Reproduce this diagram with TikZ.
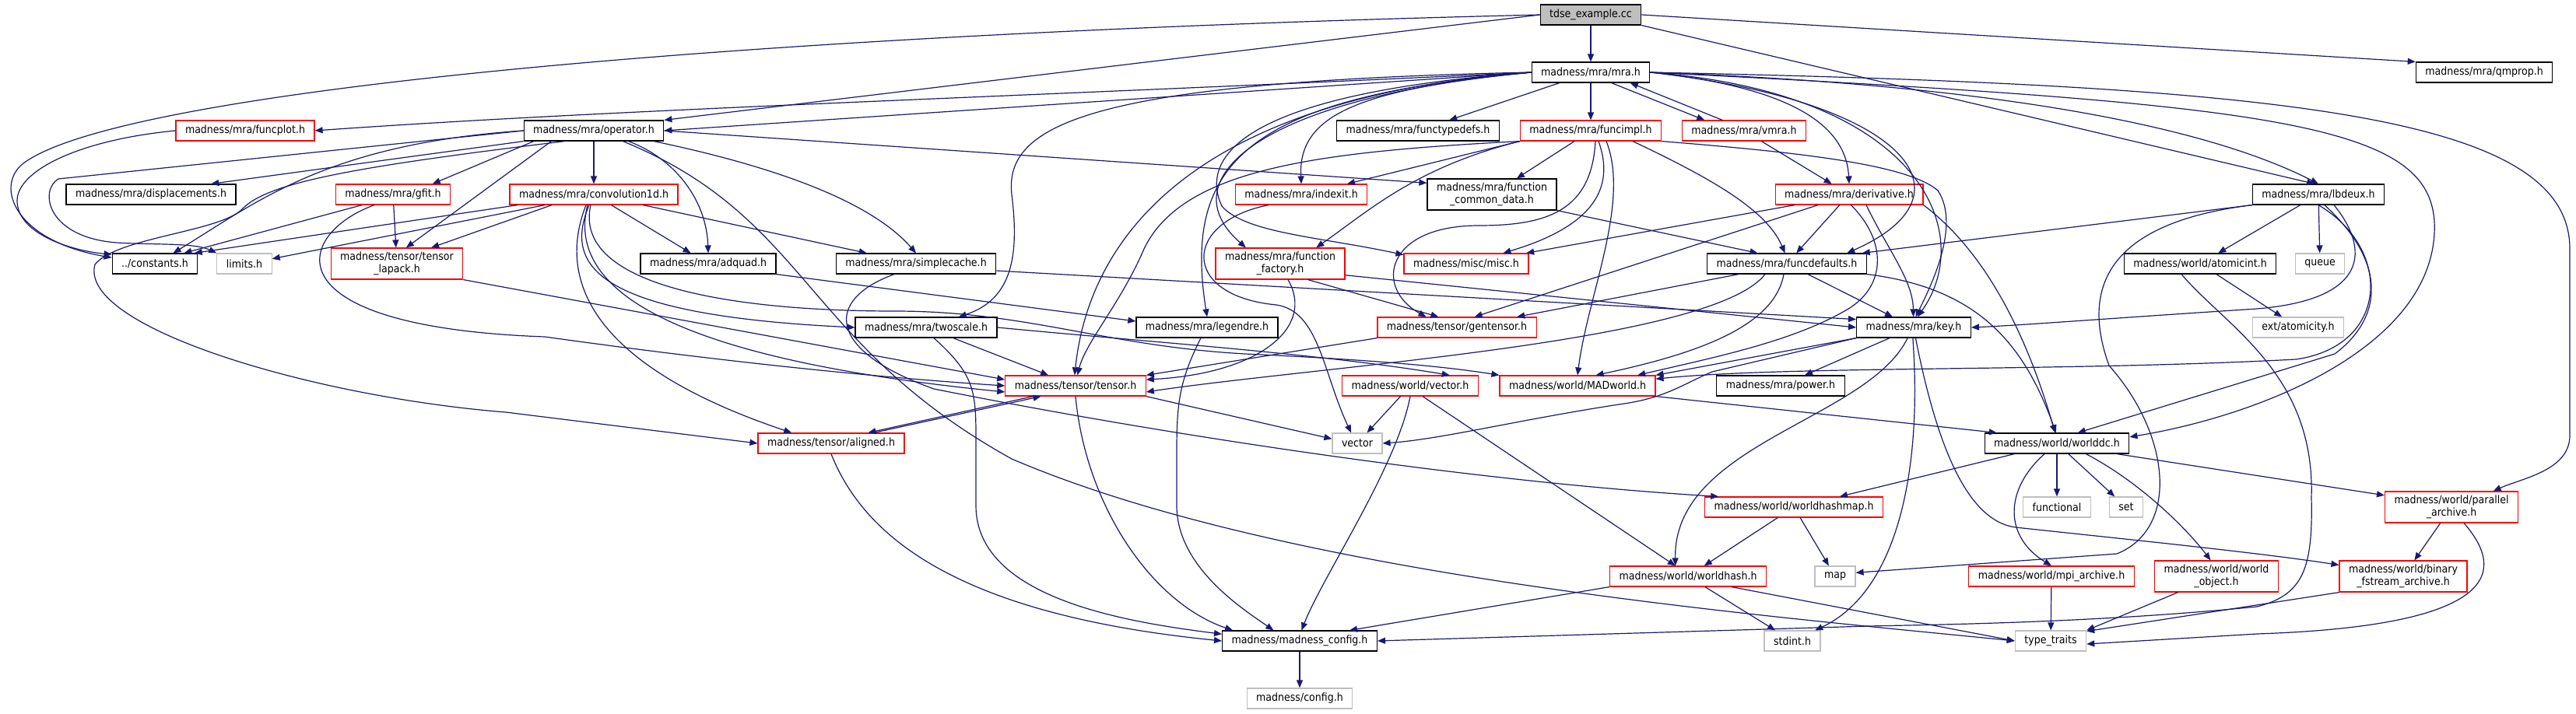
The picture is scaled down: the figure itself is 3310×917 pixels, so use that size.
\documentclass[tikz,border=0pt]{standalone}
\usepackage{fontspec}
\setmainfont{DejaVu Sans}[FakeStretch=0.9]
\usepackage{tikz}
\usetikzlibrary{arrows.meta}
\definecolor{edgeblue}{HTML}{191970}
\definecolor{incred}{HTML}{FF0000}
\definecolor{sysgray}{HTML}{BFBFBF}
\tikzset{
  %% Header boxes
  filebox/.style={
    rectangle, draw=black, fill=white, line width=0.6pt,
    minimum height=13pt, inner xsep=6pt, inner ysep=0pt,
    align=center, font=\fontsize{7}{7.8}\selectfont},
  %% Headers with hidden includes
  redbox/.style={filebox, draw=incred},
  %% System headers
  sysbox/.style={filebox, draw=sysgray},
  %% Root file
  rootbox/.style={filebox, fill=sysgray},
  %% Two-line boxes
  tall/.style={minimum height=20pt},
  %% Include arrows
  incl/.style={-{Triangle[length=5pt,width=4pt]}, draw=edgeblue, line width=0.6pt},
}

\begin{document}
\begin{tikzpicture}[x=0.5pt, y=-0.5pt]
  \fill[white] (0,0) rectangle (3310,917);
  \useasboundingbox (0,0) rectangle (3310,917);

  %% Rows of files
  \node[rootbox] (tdse) at (2044,19) {tdse\_example.cc};
  \node[filebox] (mra) at (2044,93) {madness/mra/mra.h};
  \node[filebox] (qmprop) at (3192,93) {madness/mra/qmprop.h};

  \node[redbox] (funcplot) at (315,168) {madness/mra/funcplot.h};
  \node[filebox] (operator) at (763,168) {madness/mra/operator.h};
  \node[filebox] (functypedefs) at (1822,168) {madness/mra/functypedefs.h};
  \node[redbox] (funcimpl) at (2044,168) {madness/mra/funcimpl.h};
  \node[redbox] (vmra) at (2241,168) {madness/mra/vmra.h};

  \node[filebox] (displacements) at (194,250) {madness/mra/displacements.h};
  \node[redbox] (gfit) at (505,250) {madness/mra/gfit.h};
  \node[redbox] (conv) at (763,250) {madness/mra/convolution1d.h};
  \node[redbox] (indexit) at (1672,250) {madness/mra/indexit.h};
  \node[filebox, tall] (fcommon) at (1917,250) {madness/mra/function\\\_common\_data.h};
  \node[redbox] (derivative) at (2376,250) {madness/mra/derivative.h};
  \node[filebox] (lbdeux) at (2979,250) {madness/mra/lbdeux.h};

  \node[filebox] (constants) at (199,339) {../constants.h};
  \node[sysbox] (limits) at (314,339) {limits.h};
  \node[redbox, tall] (lapack) at (510,339) {madness/tensor/tensor\\\_lapack.h};
  \node[filebox] (adquad) at (910,339) {madness/mra/adquad.h};
  \node[filebox] (simplecache) at (1177,339) {madness/mra/simplecache.h};
  \node[redbox, tall] (factory) at (1645,339) {madness/mra/function\\\_factory.h};
  \node[redbox] (misc) at (1884,339) {madness/misc/misc.h};
  \node[filebox] (funcdefaults) at (2296,339) {madness/mra/funcdefaults.h};
  \node[filebox] (atomicint) at (2827,339) {madness/world/atomicint.h};
  \node[sysbox] (queue) at (2981,339) {queue};

  \node[filebox] (twoscale) at (1190,421) {madness/mra/twoscale.h};
  \node[filebox] (legendre) at (1551,421) {madness/mra/legendre.h};
  \node[redbox] (gentensor) at (1872,421) {madness/tensor/gentensor.h};
  \node[filebox] (key) at (2459,421) {madness/mra/key.h};
  \node[sysbox] (atomicity) at (2953,421) {ext/atomicity.h};

  \node[redbox] (tensor) at (1382,496) {madness/tensor/tensor.h};
  \node[redbox] (wvector) at (1812,496) {madness/world/vector.h};
  \node[redbox] (madworld) at (2027,496) {madness/world/MADworld.h};
  \node[filebox] (power) at (2288,496) {madness/mra/power.h};

  \node[redbox] (aligned) at (1068,570) {madness/tensor/aligned.h};
  \node[sysbox] (stdvector) at (1744,570) {vector};
  \node[filebox] (worlddc) at (2643,570) {madness/world/worlddc.h};

  \node[redbox] (hashmap) at (2305,652) {madness/world/worldhashmap.h};
  \node[sysbox] (functional) at (2643,652) {functional};
  \node[sysbox] (stdset) at (2732,652) {set};
  \node[redbox, tall] (parallel) at (3150,652) {madness/world/parallel\\\_archive.h};

  \node[redbox] (worldhash) at (2169,741) {madness/world/worldhash.h};
  \node[sysbox] (stdmap) at (2358,741) {map};
  \node[redbox] (mpiarchive) at (2636,741) {madness/world/mpi\_archive.h};
  \node[redbox, tall] (worldobject) at (2848,741) {madness/world/world\\\_object.h};
  \node[redbox, tall] (binaryfs) at (3088,741) {madness/world/binary\\\_fstream\_archive.h};

  \node[filebox] (config) at (1670,824) {madness/madness\_config.h};
  \node[sysbox] (stdint) at (2303,824) {stdint.h};
  \node[sysbox] (typetraits) at (2635,824) {type\_traits};
  \node[sysbox] (madconfig) at (1670,898) {madness/config.h};

  %% tdse_example.cc
  \draw[incl] (tdse) -- (mra);
  \draw[incl] (tdse.east) -- (qmprop.north west);
  \draw[incl] (tdse.south east) -- (lbdeux.110);
  \draw[incl] (tdse.west) -- (operator.north east);
  \draw[incl] (tdse.west) .. controls (900,45) and (150,120) .. (30,210)
        .. controls (-8,240) and (20,310) .. (constants.172);

  %% mra.h
  \draw[incl] (mra.west) .. controls (1300,125) and (800,140) .. (funcplot.east);
  \draw[incl] (mra.west) -- (operator.east);
  \draw[incl] (mra) -- (functypedefs);
  \draw[incl] (mra) -- (funcimpl);
  \draw[incl] (mra.-27) -- (vmra.165);
  \draw[incl] (vmra.154) -- (mra.-15);
  \draw[incl] (mra.east) .. controls (2300,112) and (2372,160) .. (derivative.north);
  \draw[incl] (mra.east) .. controls (2450,130) and (2545,250) .. (funcdefaults.10);
  \draw[incl] (mra.east) .. controls (2470,120) and (2540,300) .. (key.70);
  \draw[incl] (mra.east) .. controls (2600,110) and (2850,170) .. (lbdeux.north);
  \draw[incl] (mra.east) .. controls (2950,110) and (3302,150) .. (3302,320)
        -- (3302,560) .. controls (3302,605) and (3240,615) .. (parallel.21);
  \draw[incl] (mra.east) .. controls (2950,135) and (3135,160) .. (3128,300)
        .. controls (3120,450) and (2900,535) .. (worlddc.5);
  \draw[incl] (mra.west) .. controls (1740,115) and (1668,150) .. (indexit.north);
  \draw[incl] (mra.west) .. controls (1620,125) and (1500,230) .. (factory.155);
  \draw[incl] (mra.west) .. controls (1400,105) and (1290,160) .. (1300,250)
        .. controls (1310,330) and (1300,385) .. (twoscale.18);
  \draw[incl] (mra.west) .. controls (1600,125) and (1520,210) .. (legendre.north);
  \draw[incl] (mra.west) .. controls (1540,125) and (1400,300) .. (tensor.95);
  \draw[incl] (mra.west) .. controls (1600,120) and (1540,200) .. (1570,265)
        .. controls (1600,300) and (1700,305) .. (misc.172);

  %% funcplot.h
  \draw[incl] (funcplot.west) .. controls (100,180) and (22,220) .. (22,258)
        .. controls (22,300) and (90,322) .. (constants.168);

  %% operator.h
  \draw[incl] (operator.south west) -- (displacements.10);
  \draw[incl] (operator.190) -- (gfit.15);
  \draw[incl] (operator) -- (conv);
  \draw[incl] (operator.-17) .. controls (870,205) and (908,260) .. (adquad.north);
  \draw[incl] (operator.-10) .. controls (1000,215) and (1120,260) .. (simplecache.north);
  \draw[incl] (operator.east) -- (fcommon.170);
  \draw[incl] (operator.194) -- (lapack.60);
  \draw[incl] (operator.west) .. controls (420,185) and (330,260) .. (constants.30);
  \draw[incl] (operator.west) -- (75,230) .. controls (50,245) and (60,305) .. (150,312)
        .. controls (200,315) and (250,312) .. (limits.north west);
  \draw[incl] (operator.200) .. controls (450,215) and (345,235) .. (312,268)
        .. controls (285,298) and (150,305) .. (122,340)
        .. controls (100,420) and (400,510) .. (650,530) -- (aligned.west);
  \draw[incl] (operator.-20) .. controls (1040,280) and (1030,440) .. (1300,590)
        .. controls (1650,740) and (2250,790) .. (typetraits.west);

  %% gfit.h and tensor_lapack.h
  \draw[incl] ([xshift=-20pt]gfit.south) -- (constants.20);
  \draw[incl] (gfit) -- (lapack);
  \draw[incl] ([xshift=-12pt]gfit.south) .. controls (380,300) and (340,420) .. (700,433)
        .. controls (1000,475) and (1200,490) .. (tensor.west);
  \draw[incl] (lapack.south east) -- (tensor.175);

  %% convolution1d.h
  \draw[incl] ([xshift=-49pt]conv.south) -- (constants.15);
  \draw[incl] ([xshift=-31.5pt]conv.south) -- (limits.10);
  \draw[incl] ([xshift=-27pt]conv.south) -- (lapack.25);
  \draw[incl] (conv) -- (adquad);
  \draw[incl] (conv) -- (simplecache);
  \draw[incl] ([xshift=-3pt]conv.south) .. controls (725,340) and (760,405) .. (twoscale.west);
  \draw[incl] ([xshift=-5pt]conv.south) .. controls (715,360) and (760,470) .. (aligned.165);
  \draw[incl] ([xshift=-4pt]conv.south) .. controls (720,400) and (950,470) .. (tensor.185);
  \draw[incl] ([xshift=-2pt]conv.south) .. controls (735,370) and (950,400) .. (1150,400)
        .. controls (1320,400) and (1420,445) .. (1600,455)
        .. controls (1750,462) and (1850,470) .. (madworld.north west);

  %% funcimpl.h
  \draw[incl] (funcimpl) -- (fcommon);
  \draw[incl] (funcimpl.south west) -- (indexit.13);
  \draw[incl] (funcimpl.south west) .. controls (1820,215) and (1760,270) .. (factory.24);
  \draw[incl] ([xshift=5pt]funcimpl.south) .. controls (2075,240) and (2050,290) .. (misc.16);
  \draw[incl] ([xshift=3pt]funcimpl.south) .. controls (2045,270) and (1990,290) .. (1900,290)
        .. controls (1780,290) and (1765,370) .. (gentensor.161);
  \draw[incl] ([xshift=27pt]funcimpl.south) .. controls (2200,230) and (2270,270) .. (funcdefaults.100);
  \draw[incl] (funcimpl.south east) .. controls (2300,195) and (2450,210) .. (2490,245)
        .. controls (2520,290) and (2480,370) .. (key.80);
  \draw[incl] (funcimpl.south west) .. controls (1700,195) and (1520,215) .. (1470,320)
        .. controls (1440,390) and (1395,440) .. (tensor.80);
  \draw[incl] ([xshift=10pt]funcimpl.south) .. controls (2095,260) and (2040,380) .. (madworld.north);

  %% vmra.h, function_common_data.h
  \draw[incl] (vmra) -- (derivative);
  \draw[incl] (fcommon.south east) -- (funcdefaults.160);

  %% derivative.h
  \draw[incl] ([xshift=-35pt]derivative.south) -- (misc.10);
  \draw[incl] ([xshift=-20pt]derivative.south) -- (gentensor.31);
  \draw[incl] (derivative) -- (funcdefaults);
  \draw[incl] ([xshift=11pt]derivative.south) .. controls (2425,320) and (2458,360) .. (key.92);
  \draw[incl] (derivative.south east) .. controls (2560,330) and (2610,450) .. (worlddc.100);
  \draw[incl] (derivative.-80) .. controls (2425,310) and (2425,370) .. (2370,400)
        .. controls (2300,440) and (2200,460) .. (madworld.10);

  %% indexit.h
  \draw[incl] ([xshift=-21pt]indexit.south) .. controls (1520,285) and (1515,380) .. (1640,392)
        .. controls (1695,400) and (1700,480) .. (stdvector.120);

  %% lbdeux.h
  \draw[incl] (lbdeux.south west) -- (funcdefaults.8);
  \draw[incl] (lbdeux) -- (atomicint);
  \draw[incl] (lbdeux) -- (queue);
  \draw[incl] ([xshift=10pt]lbdeux.south) .. controls (3045,320) and (3045,385) .. (2900,397)
        .. controls (2700,410) and (2600,418) .. (key.east);
  \draw[incl] (lbdeux.-60) .. controls (3070,340) and (3060,410) .. (3000,455) -- (worlddc.27);
  \draw[incl] (lbdeux.south) .. controls (3075,320) and (3070,445) .. (2950,462)
        .. controls (2650,478) and (2300,470) .. (madworld.5);
  \draw[incl] (lbdeux.south west) .. controls (2720,285) and (2670,360) .. (2710,470)
        .. controls (2790,560) and (2800,680) .. (2720,712) -- (stdmap.10);

  %% atomicint.h
  \draw[incl] (atomicint) -- (atomicity);
  \draw[incl] ([xshift=-12pt]atomicint.south) .. controls (2860,420) and (2975,480) .. (2970,640)
        .. controls (2972,730) and (2960,765) .. (2900,780)
        .. controls (2700,800) and (2500,803) .. (2400,805) -- (config.east);

  %% funcdefaults.h
  \draw[incl] (funcdefaults) -- (key);
  \draw[incl] ([xshift=-31pt]funcdefaults.south) -- (gentensor.10);
  \draw[incl] ([xshift=-14pt]funcdefaults.south) .. controls (2200,440) and (1700,470) .. (tensor.-5);
  \draw[incl] ([xshift=-2pt]funcdefaults.south) .. controls (2280,420) and (2180,455) .. (madworld.30);
  \draw[incl] (funcdefaults.south east) .. controls (2540,370) and (2600,440) .. (worlddc.95);

  %% function_factory.h, simplecache.h, adquad.h
  \draw[incl] (factory.-30) -- (gentensor.150);
  \draw[incl] ([xshift=5pt]factory.south) .. controls (1690,420) and (1620,480) .. (tensor.5);
  \draw[incl] (factory.-10) -- (key.180);
  \draw[incl] (simplecache.-5) -- (key.172);
  \draw[incl] ([xshift=-14pt]simplecache.south) .. controls (1060,385) and (1060,450) .. (1200,500)
        .. controls (1500,560) and (1900,620) .. (hashmap.172);
  \draw[incl] (adquad.south east) -- (legendre.175);

  %% key.h
  \draw[incl] (key) -- (power);
  \draw[incl] (key.south west) -- (madworld.north east);
  \draw[incl] (key.-120) .. controls (2400,540) and (2150,570) .. (worldhash.140);
  \draw[incl] (key.-95) .. controls (2470,600) and (2440,760) .. (stdint.25);
  \draw[incl] (key.-80) .. controls (2490,580) and (2530,670) .. (2590,678)
        .. controls (2700,690) and (2900,710) .. (binaryfs.170);
  \draw[incl] (key.south west) -- (2200,478) .. controls (2160,495) and (2140,512) .. (2080,520)
        .. controls (1950,540) and (1850,565) .. (stdvector.east);

  %% twoscale.h, legendre.h, gentensor.h
  \draw[incl] (twoscale) -- (tensor);
  \draw[incl] ([xshift=5pt]twoscale.south) .. controls (1250,480) and (1254,500) .. (1254,560)
        -- (1254,650) .. controls (1254,770) and (1450,800) .. (config.175);
  \draw[incl] (twoscale.east) .. controls (1480,440) and (1700,455) .. (wvector.15);
  \draw[incl] ([xshift=-4pt]legendre.south) .. controls (1515,490) and (1512,520) .. (1512,580)
        -- (1512,650) .. controls (1512,730) and (1600,785) .. (config.158);
  \draw[incl] (gentensor.south west) -- (tensor.north east);

  %% tensor.h, aligned.h
  \draw[incl] (tensor.south east) -- (stdvector.170);
  \draw[incl] (tensor.south) .. controls (1395,650) and (1480,775) .. (config.171);
  \draw[incl] (tensor.-166) -- (aligned.16);
  \draw[incl] (aligned.14) -- (tensor.-163);
  \draw[incl] (aligned.south) .. controls (1110,690) and (1230,790) .. (config.west);

  %% vector.h, MADworld.h
  \draw[incl] (wvector) -- (stdvector);
  \draw[incl] (wvector.south) .. controls (1795,600) and (1700,740) .. (config.80);
  \draw[incl] ([xshift=8pt]wvector.south) -- (worldhash.140);
  \draw[incl] (madworld.south east) -- (worlddc.170);

  %% worlddc.h
  \draw[incl] (worlddc) -- (functional);
  \draw[incl] (worlddc) -- (stdset);
  \draw[incl] ([xshift=-8pt]worlddc.south) .. controls (2575,630) and (2575,690) .. (mpiarchive.north);
  \draw[incl] (worlddc.-20) .. controls (2750,620) and (2810,680) .. (worldobject.110);
  \draw[incl] (worlddc.-10) -- (parallel.170);
  \draw[incl] (worlddc.-166) -- (hashmap.13);

  %% worldhashmap.h, worldhash.h
  \draw[incl] (hashmap) -- (worldhash);
  \draw[incl] (hashmap) -- (stdmap);
  \draw[incl] (worldhash) -- (stdint);
  \draw[incl] (worldhash.south west) -- (config.12);
  \draw[incl] ([xshift=28pt]worldhash.south) -- (typetraits.west);

  %% archives
  \draw[incl] (parallel) -- (binaryfs);
  \draw[incl] ([xshift=8pt]parallel.south) .. controls (3225,740) and (3200,805) .. (2900,815)
        -- (typetraits.-5);
  \draw[incl] (mpiarchive) -- (typetraits);
  \draw[incl] (worldobject) -- (typetraits.north east);
  \draw[incl] (binaryfs.south west) -- (typetraits.15);

  %% madness_config.h
  \draw[incl] (config) -- (madconfig);
\end{tikzpicture}
\end{document}
